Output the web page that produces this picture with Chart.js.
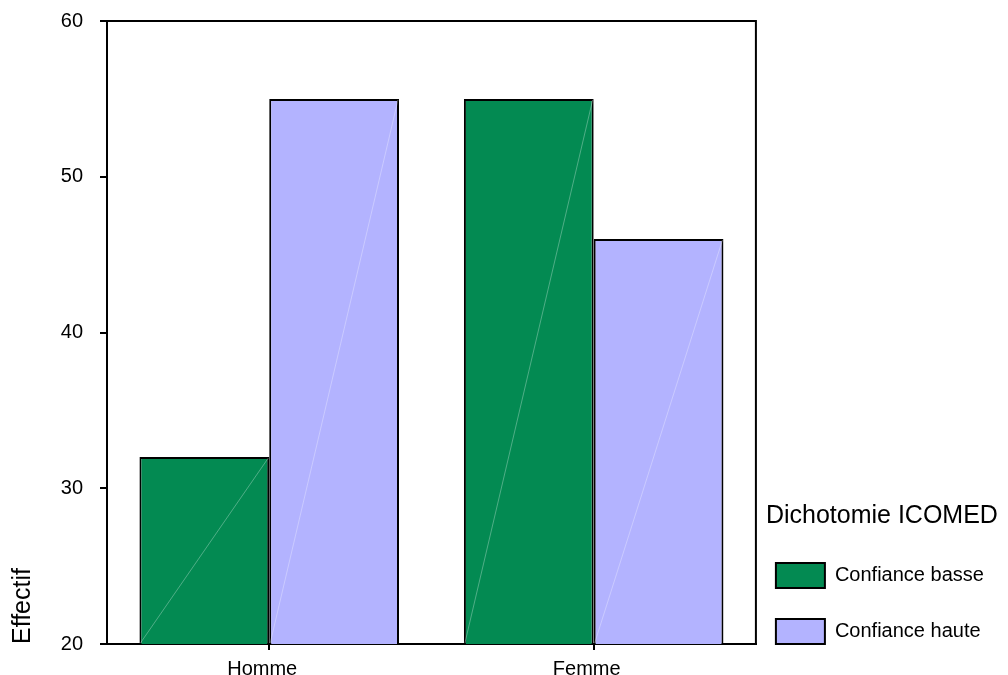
<!DOCTYPE html>
<html>
<head>
<meta charset="utf-8">
<script src="https://cdn.jsdelivr.net/npm/chart.js@4"></script>
<style>
  body { margin: 0; background: #fff; }
  canvas { display: block; }
</style>
</head>
<body>
<canvas id="graf" width="1008" height="675"></canvas>
<script>
const categories = ['Homme', 'Femme']
const confianceBasse = [32, 55]
const confianceHaute = [55, 46]
const yMin = 20
const yMax = 60
const yStep = 10

const police = 'Arial, "Liberation Sans", sans-serif'

// cadre autour de la zone du graphique
const cadre = {
    id: 'cadre',
    beforeDatasetsDraw(chart) {
        const a = chart.chartArea
        const ctx = chart.ctx
        ctx.save()
        ctx.strokeStyle = '#000'
        ctx.lineWidth = 2
        ctx.strokeRect(a.left, a.top, a.right - a.left, a.bottom - a.top)
        ctx.restore()
    }
}

// petite diagonale claire dans chaque barre
const diagonales = {
    id: 'diagonales',
    afterDatasetsDraw(chart) {
        const ctx = chart.ctx
        const bas = chart.chartArea.bottom
        ctx.save()
        ctx.strokeStyle = 'rgba(255,255,255,0.3)'
        ctx.lineWidth = 1
        chart.data.datasets.forEach((ds, i) => {
            chart.getDatasetMeta(i).data.forEach(bar => {
                const w = bar.width / 2
                ctx.beginPath()
                ctx.moveTo(bar.x - w + 1, Math.min(bar.base, bas) - 1)
                ctx.lineTo(bar.x + w - 1, bar.y + 1)
                ctx.stroke()
            })
        })
        ctx.restore()
    }
}

function criarGraf() {
    const ctx = document.getElementById('graf').getContext('2d')

    new Chart(ctx, {
        type: 'bar',
        data: {
            labels: categories,
            datasets: [{
                label: 'Confiance basse',
                data: confianceBasse,
                backgroundColor: '#038a52',
                borderColor: '#000',
                borderWidth: 2,
                borderSkipped: false
            }, {
                label: 'Confiance haute',
                data: confianceHaute,
                backgroundColor: '#b3b3ff',
                borderColor: '#000',
                borderWidth: 2,
                borderSkipped: false
            }]
        },
        options: {
            responsive: false,
            animation: false,
            categoryPercentage: 0.8,
            barPercentage: 1.0,
            layout: {
                padding: { top: 21, right: 3, bottom: 0, left: 0 }
            },
            scales: {
                x: {
                    grid: {
                        offset: false,
                        drawOnChartArea: false,
                        color: '#000',
                        lineWidth: 2,
                        tickLength: 6
                    },
                    border: { color: '#000', width: 2 },
                    ticks: {
                        color: '#000',
                        padding: 7,
                        labelOffset: -7,
                        font: { family: police, size: 20 }
                    },
                    afterFit: s => { s.height = 31 }
                },
                y: {
                    min: yMin,
                    max: yMax,
                    grid: {
                        drawOnChartArea: false,
                        color: '#000',
                        lineWidth: 2,
                        tickLength: 7
                    },
                    border: { color: '#000', width: 2 },
                    ticks: {
                        stepSize: yStep,
                        color: '#000',
                        padding: 17,
                        font: { family: police, size: 20 }
                    },
                    title: {
                        display: true,
                        text: 'Effectif',
                        align: 'start',
                        color: '#000',
                        padding: { top: 8, bottom: 10 },
                        font: { family: police, size: 25 }
                    },
                    afterFit: s => {
                        s.width = 107
                        s.paddingTop = 0
                        s.paddingBottom = 0
                    }
                },
                espace: {
                    type: 'linear',
                    position: 'right',
                    grid: { display: false },
                    border: { display: false },
                    ticks: { display: false },
                    afterFit: s => { s.width = 10 }
                }
            },
            plugins: {
                tooltip: { enabled: false },
                legend: {
                    position: 'right',
                    align: 'end',
                    maxWidth: 400,
                    title: {
                        display: true,
                        text: 'Dichotomie ICOMED',
                        position: 'start',
                        color: '#000',
                        padding: { top: 0, bottom: 19.5 },
                        font: { family: police, size: 25 }
                    },
                    labels: {
                        boxWidth: 49,
                        boxHeight: 25,
                        padding: 10,
                        color: '#000',
                        font: { family: police, size: 20, lineHeight: 2.3 },
                        generateLabels: chart => {
                            const items = Chart.defaults.plugins.legend.labels.generateLabels(chart)
                            // deux espaces pour élargir la légende (le titre est plus long)
                            return items.map(it => ({ ...it, text: [it.text + '  '] }))
                        }
                    }
                }
            }
        },
        plugins: [cadre, diagonales]
    })
}

criarGraf()
</script>
</body>
</html>
